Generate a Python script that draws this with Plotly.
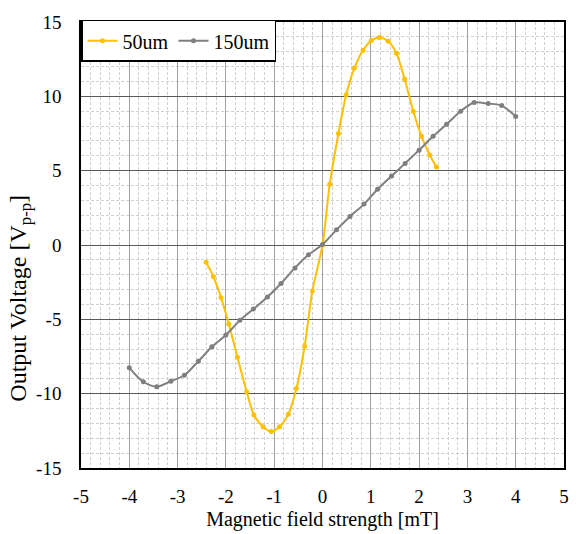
import plotly.graph_objects as go

# 50um series
x_50 = [-2.41, -2.26, -2.10, -1.94, -1.76, -1.57, -1.42, -1.23, -1.06, -0.89, -0.71, -0.54, -0.37, -0.21,
        0.0, 0.15, 0.33, 0.49, 0.66, 0.84, 1.01, 1.18, 1.36, 1.53, 1.70, 1.88, 2.05, 2.22, 2.36]
y_50 = [-1.16, -2.12, -3.55, -5.31, -7.55, -9.87, -11.43, -12.23, -12.55, -12.23, -11.39, -9.65, -6.81, -3.1,
        0.0, 4.09, 7.5, 10.1, 11.9, 13.1, 13.75, 13.95, 13.7, 12.9, 11.16, 9.0, 7.32, 6.05, 5.25]

# 150um series
x_150 = [-4.0, -3.71, -3.43, -3.14, -2.86, -2.57, -2.29, -2.0, -1.71, -1.43, -1.14, -0.86, -0.57, -0.29,
         0.0, 0.29, 0.57, 0.86, 1.14, 1.43, 1.71, 2.0, 2.29, 2.57, 2.86, 3.14, 3.43, 3.71, 4.0]
y_150 = [-8.26, -9.2, -9.53, -9.16, -8.76, -7.82, -6.85, -6.05, -5.07, -4.31, -3.5, -2.59, -1.54, -0.66,
         0.03, 1.02, 1.92, 2.75, 3.75, 4.64, 5.49, 6.38, 7.32, 8.12, 9.0, 9.58, 9.51, 9.38, 8.64]

x_ticks = [-5, -4, -3, -2, -1, 0, 1, 2, 3, 4, 5]
y_ticks = [-15, -10, -5, 0, 5, 10, 15]

FONT = "Liberation Serif"

fig = go.Figure()
fig.add_trace(go.Scatter(x=x_50, y=y_50, name="50um", mode="lines+markers",
                         line=dict(color="#FFC000", width=2, shape="spline", smoothing=0.8),
                         marker=dict(color="#FFC000", size=5)))
fig.add_trace(go.Scatter(x=x_150, y=y_150, name="150um", mode="lines+markers",
                         line=dict(color="#7F7F7F", width=2, shape="spline", smoothing=0.8),
                         marker=dict(color="#7F7F7F", size=5)))

fig.update_layout(
    width=576, height=534,
    margin=dict(l=81, r=7, t=22, b=62),
    paper_bgcolor="white", plot_bgcolor="white",
    font=dict(family=FONT, size=19, color="black"),
    showlegend=True,
    legend=dict(orientation="h", x=0.0, y=1.005, xanchor="left", yanchor="top",
                bgcolor="white", bordercolor="black", borderwidth=1.5,
                font=dict(family=FONT, size=20), itemwidth=30, tracegroupgap=0),
    annotations=[dict(text="Output Voltage [V<sub>p-p</sub>]", xref="paper", yref="paper",
                      x=-0.128, y=0.38, xanchor="center", yanchor="middle", textangle=-90,
                      showarrow=False, font=dict(family=FONT, size=24, color="black"))],
)
fig.update_xaxes(
    range=[-5, 5], tickvals=x_ticks, ticktext=[str(v) for v in x_ticks],
    showgrid=True, gridcolor="#A0A0A0", gridwidth=1, zeroline=False,
    showline=True, linecolor="black", linewidth=1.5, mirror=True,
    ticks="", ticklabelstandoff=10,
    minor=dict(dtick=0.2, showgrid=True, gridcolor="#D0D0D0", gridwidth=1, griddash="3px,2px"),
    title=dict(text="Magnetic field strength [mT]", font=dict(family=FONT, size=20), standoff=6),
    tickfont=dict(family=FONT, size=19),
)
fig.update_yaxes(
    range=[-15, 15], tickvals=y_ticks, ticktext=[str(v) for v in y_ticks],
    showgrid=True, gridcolor="#595959", gridwidth=1, zeroline=False,
    showline=True, linecolor="black", linewidth=1.5, mirror=True,
    ticks="", ticklabelstandoff=14,
    minor=dict(dtick=1, showgrid=True, gridcolor="#D0D0D0", gridwidth=1, griddash="3px,2px"),
    tickfont=dict(family=FONT, size=19),
)

fig.write_html("out.html")
